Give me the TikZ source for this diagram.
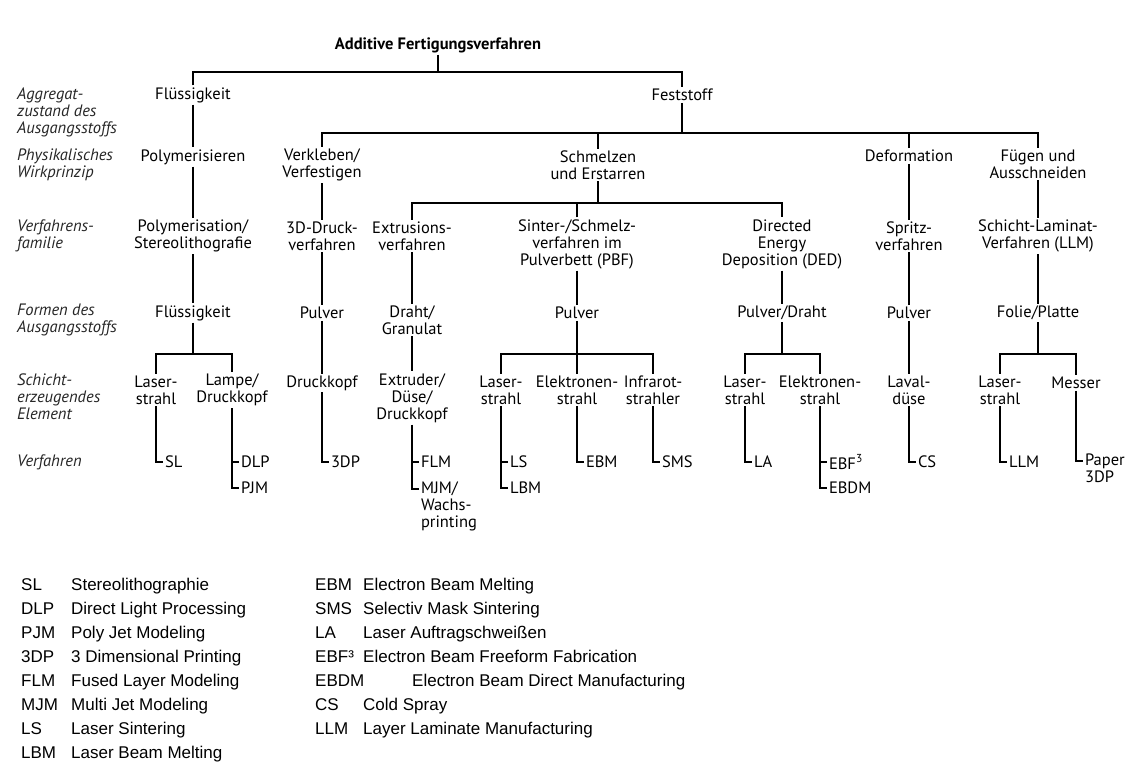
\documentclass[tikz,border=0pt]{standalone}
\usepackage{fontspec}
\setmainfont{PT Sans}
\newfontfamily\legendfont{Liberation Sans}
\newcommand{\treefont}{\fontsize{16.5}{17}\selectfont}
\newcommand{\legfont}{\legendfont\fontsize{17}{19}\selectfont}

\tikzset{
  box/.style={inner sep=2pt, outer sep=0pt, align=center, font=\treefont},
  stage/.style={anchor=west, align=left, inner sep=2pt, font=\treefont\itshape, text=black!85},
  leaf/.style={anchor=west, align=left, inner sep=2pt, outer sep=0pt, font=\treefont},
  leafml/.style={anchor=north west, align=left, inner sep=2pt, outer sep=0pt, font=\treefont},
  legabbr/.style={anchor=base west, inner sep=0pt, font=\legfont},
  link/.style={line width=1.4pt}
}

\begin{document}
\begin{tikzpicture}[x=1pt, y=-1pt]
        \fill[white] (0,0) rectangle (1135,772);
        \useasboundingbox (0,0) rectangle (1135,772);

        % Ebenen links
        \node[stage] (aggregat) at (15,112) {Aggregat-\\zustand des\\Ausgangsstoffs};
        \node[stage] (wirk) at (15,165) {Physikalisches\\Wirkprinzip};
        \node[stage] (familie) at (15,236) {Verfahrens-\\familie};
        \node[stage] (formen) at (15,320) {Formen des\\Ausgangsstoffs};
        \node[stage] (element) at (15,397) {Schicht-\\erzeugendes\\Element};
        \node[stage] (verfahren) at (15,462) {Verfahren};

        % Wurzel und Aggregatzustand
        \node[box, font=\treefont\bfseries] (root) at (438,45) {Additive Fertigungsverfahren};
        \node[box] (fluessig) at (193,95) {Flüssigkeit};
        \node[box] (fest) at (682,95) {Feststoff};

        % Wirkprinzip
        \node[box] (polym) at (193,157) {Polymerisieren};
        \node[box] (verkleb) at (322,165) {Verkleben/\\Verfestigen};
        \node[box] (schmelz) at (598,165) {Schmelzen\\und Erstarren};
        \node[box] (deform) at (909,156) {Deformation};
        \node[box] (fuegen) at (1038,164) {Fügen und\\Ausschneiden};

        % Verfahrensfamilie
        \node[box] (polyfam) at (193,236) {Polymerisation/\\Stereolithografie};
        \node[box] (druckfam) at (322,236) {3D-Druck-\\verfahren};
        \node[box] (extrfam) at (412,236) {Extrusions-\\verfahren};
        \node[box] (pbf) at (577,244) {Sinter-/Schmelz-\\verfahren im\\Pulverbett (PBF)};
        \node[box] (ded) at (782,244) {Directed\\Energy\\Deposition (DED)};
        \node[box] (spritz) at (909,236) {Spritz-\\verfahren};
        \node[box] (llmfam) at (1038,236) {Schicht-Laminat-\\Verfahren (LLM)};

        % Formen des Ausgangsstoffs
        \node[box] (fl2) at (193,313) {Flüssigkeit};
        \node[box] (pulv1) at (322,313) {Pulver};
        \node[box] (draht) at (412,320) {Draht/\\Granulat};
        \node[box] (pulv2) at (577,313) {Pulver};
        \node[box] (pulvdraht) at (782,313) {Pulver/Draht};
        \node[box] (pulv3) at (909,313) {Pulver};
        \node[box] (folie) at (1038,313) {Folie/Platte};

        % Schichterzeugendes Element
        \node[box] (laser1) at (156,390) {Laser-\\strahl};
        \node[box] (lampe) at (232,390) {Lampe/\\Druckkopf};
        \node[box] (druckkopf) at (322,383) {Druckkopf};
        \node[box] (extruder) at (412,398) {Extruder/\\Düse/\\Druckkopf};
        \node[box] (laser2) at (501,390) {Laser-\\strahl};
        \node[box] (elek1) at (577,390) {Elektronen-\\strahl};
        \node[box] (infra) at (653,390) {Infrarot-\\strahler};
        \node[box] (laser3) at (745,390) {Laser-\\strahl};
        \node[box] (elek2) at (820,390) {Elektronen-\\strahl};
        \node[box] (laval) at (909,390) {Laval-\\düse};
        \node[box] (laser4) at (1000,390) {Laser-\\strahl};
        \node[box] (messer) at (1076,383) {Messer};

        % Verfahren
        \node[leaf] (sl) at (163,462) {SL};
        \node[leaf] (dlp) at (239,462) {DLP};
        \node[leaf] (pjm) at (239,488) {PJM};
        \node[leaf] (tdp) at (329,462) {3DP};
        \node[leaf] (flm) at (419,462) {FLM};
        \node[leafml] (mjm) at (419,480) {MJM/\\Wachs-\\printing};
        \node[leaf] (ls) at (508,462) {LS};
        \node[leaf] (lbm) at (508,488) {LBM};
        \node[leaf] (ebm) at (584,462) {EBM};
        \node[leaf] (sms) at (660,462) {SMS};
        \node[leaf] (la) at (752,462) {LA};
        \node[leaf] (ebf) at (827,462) {EBF\textsuperscript{3}};
        \node[leaf] (ebdm) at (827,488) {EBDM};
        \node[leaf] (cs) at (916,462) {CS};
        \node[leaf] (llm) at (1007,462) {LLM};
        \node[leafml] (paper) at (1083,452) {Paper\\3DP};

        % Sammelschienen
        \coordinate (bus1) at (438,72);
        \coordinate (bus2) at (682,133);
        \coordinate (bus3) at (598,203);
        \coordinate (bus4) at (193,354);
        \coordinate (bus5) at (577,354);
        \coordinate (bus6) at (782,354);
        \coordinate (bus7) at (1038,354);

        % Linien
        \draw[link] (root) -- (bus1);
        \draw[link] (fluessig.north) |- (bus1) -| (fest.north);
        \draw[link] (fest) -- (bus2);
        \draw[link] (verkleb.north) |- (bus2) -| (fuegen.north);
        \draw[link] (schmelz.north) -- (schmelz.north |- bus2);
        \draw[link] (deform.north) -- (deform.north |- bus2);
        \draw[link] (schmelz) -- (bus3);
        \draw[link] (extrfam.north) |- (bus3) -| (ded.north);
        \draw[link] (pbf.north) -- (pbf.north |- bus3);

        \draw[link] (fluessig) -- (polym);
        \draw[link] (polym) -- (polyfam);
        \draw[link] (polyfam) -- (fl2);
        \draw[link] (verkleb) -- (druckfam);
        \draw[link] (druckfam) -- (pulv1);
        \draw[link] (pulv1) -- (druckkopf);
        \draw[link] (extrfam) -- (draht);
        \draw[link] (draht) -- (extruder);
        \draw[link] (pbf) -- (pulv2);
        \draw[link] (ded) -- (pulvdraht);
        \draw[link] (deform) -- (spritz);
        \draw[link] (spritz) -- (pulv3);
        \draw[link] (pulv3) -- (laval);
        \draw[link] (fuegen) -- (llmfam);
        \draw[link] (llmfam) -- (folie);

        \draw[link] (fl2) -- (bus4);
        \draw[link] (laser1.north) |- (bus4) -| (lampe.north);
        \draw[link] (pulv2) -- (bus5);
        \draw[link] (laser2.north) |- (bus5) -| (infra.north);
        \draw[link] (elek1.north) -- (elek1.north |- bus5);
        \draw[link] (pulvdraht) -- (bus6);
        \draw[link] (laser3.north) |- (bus6) -| (elek2.north);
        \draw[link] (folie) -- (bus7);
        \draw[link] (laser4.north) |- (bus7) -| (messer.north);

        \draw[link] (laser1.south) |- (sl.west);
        \draw[link] (lampe.south) |- (pjm.west);
        \draw[link] (lampe.south |- dlp.west) -- (dlp.west);
        \draw[link] (druckkopf.south) |- (tdp.west);
        \draw[link] (extruder.south) |- ([yshift=-9pt]mjm.north west);
        \draw[link] (extruder.south |- flm.west) -- (flm.west);
        \draw[link] (laser2.south) |- (lbm.west);
        \draw[link] (laser2.south |- ls.west) -- (ls.west);
        \draw[link] (elek1.south) |- (ebm.west);
        \draw[link] (infra.south) |- (sms.west);
        \draw[link] (laser3.south) |- (la.west);
        \draw[link] (elek2.south) |- (ebdm.west);
        \draw[link] (elek2.south |- ebf.west) -- (ebf.west);
        \draw[link] (laval.south) |- (cs.west);
        \draw[link] (laser4.south) |- (llm.west);
        \draw[link] (messer.south) |- ([yshift=-9pt]paper.north west);

        % Legende links
        \node[legabbr] (kSL) at (21,590) {SL};
        \node[legabbr] (tSL) at (71,590) {Stereolithographie};
        \node[legabbr] (kDLP) at (21,614) {DLP};
        \node[legabbr] (tDLP) at (71,614) {Direct Light Processing};
        \node[legabbr] (kPJM) at (21,638) {PJM};
        \node[legabbr] (tPJM) at (71,638) {Poly Jet Modeling};
        \node[legabbr] (k3DP) at (21,662) {3DP};
        \node[legabbr] (t3DP) at (71,662) {3 Dimensional Printing};
        \node[legabbr] (kFLM) at (21,686) {FLM};
        \node[legabbr] (tFLM) at (71,686) {Fused Layer Modeling};
        \node[legabbr] (kMJM) at (21,710) {MJM};
        \node[legabbr] (tMJM) at (71,710) {Multi Jet Modeling};
        \node[legabbr] (kLS) at (21,734) {LS};
        \node[legabbr] (tLS) at (71,734) {Laser Sintering};
        \node[legabbr] (kLBM) at (21,758) {LBM};
        \node[legabbr] (tLBM) at (71,758) {Laser Beam Melting};

        % Legende rechts
        \node[legabbr] (kEBM) at (315,590) {EBM};
        \node[legabbr] (tEBM) at (363,590) {Electron Beam Melting};
        \node[legabbr] (kSMS) at (315,614) {SMS};
        \node[legabbr] (tSMS) at (363,614) {Selectiv Mask Sintering};
        \node[legabbr] (kLA) at (315,638) {LA};
        \node[legabbr] (tLA) at (363,638) {Laser Auftragschweißen};
        \node[legabbr] (kEBF) at (315,662) {EBF³};
        \node[legabbr] (tEBF) at (363,662) {Electron Beam Freeform Fabrication};
        \node[legabbr] (kEBDM) at (315,686) {EBDM};
        \node[legabbr] (tEBDM) at (412,686) {Electron Beam Direct Manufacturing};
        \node[legabbr] (kCS) at (315,710) {CS};
        \node[legabbr] (tCS) at (363,710) {Cold Spray};
        \node[legabbr] (kLLM) at (315,734) {LLM};
        \node[legabbr] (tLLM) at (363,734) {Layer Laminate Manufacturing};
\end{tikzpicture}
\end{document}
